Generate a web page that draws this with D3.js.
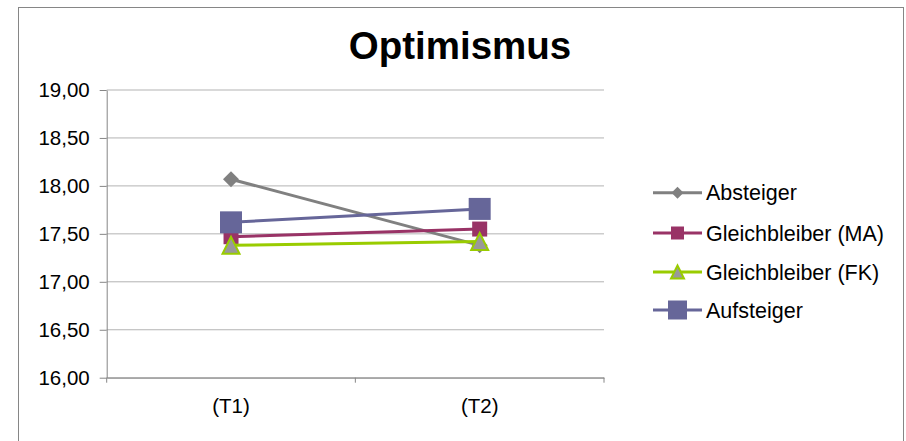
<!DOCTYPE html>
<html>
<head>
<meta charset="utf-8">
<script src="https://cdn.jsdelivr.net/npm/d3@7"></script>
<style>
  html, body { margin: 0; padding: 0; background: #fff; }
  svg { display: block; font-family: "Liberation Sans", Arial, sans-serif; }
</style>
</head>
<body>
<svg id="chart" width="906" height="441"></svg>
<script>
// Messzeitpunkte
const categories = ["(T1)", "(T2)"];

// Mittelwerte je Gruppe
const absteiger = [18.07, 17.38];
const gleichbleiberMA = [17.47, 17.55];
const gleichbleiberFK = [17.38, 17.42];
const aufsteiger = [17.62, 17.76];

const seriesNames = ["Absteiger", "Gleichbleiber (MA)", "Gleichbleiber (FK)", "Aufsteiger"];
const yTicks = [16, 16.5, 17, 17.5, 18, 18.5, 19];

const series = [
  { name: seriesNames[0], values: absteiger, line: "#808080", fill: "#808080", stroke: "none", symbol: "diamond", size: 16, legendSize: 12 },
  { name: seriesNames[1], values: gleichbleiberMA, line: "#993366", fill: "#993366", stroke: "none", symbol: "square", size: 15, legendSize: 13 },
  { name: seriesNames[2], values: gleichbleiberFK, line: "#99CC00", fill: "#999999", stroke: "#99CC00", symbol: "triangle", size: 17, legendSize: 13 },
  { name: seriesNames[3], values: aufsteiger, line: "#666699", fill: "#666699", stroke: "none", symbol: "square", size: 22, legendSize: 19 }
];

const svg = d3.select("#chart");
const plot = { left: 106.7, right: 604, top: 90, bottom: 377.7 };

const deLocale = d3.formatLocale({ decimal: ",", thousands: ".", grouping: [3], currency: ["", " €"] });
const fmt = deLocale.format(".2f");

// Rahmen des Diagrammbereichs
svg.append("rect")
  .attr("x", 18.5).attr("y", 7.5)
  .attr("width", 885).attr("height", 450)
  .attr("fill", "#fff").attr("stroke", "#868686").attr("stroke-width", 1);

// Titel
svg.append("text")
  .attr("x", 460).attr("y", 59)
  .attr("text-anchor", "middle")
  .attr("font-size", 38.5).attr("font-weight", "bold")
  .attr("fill", "#000")
  .text("Optimismus");

const x = d3.scaleBand().domain(categories).range([plot.left, plot.right]);
const y = d3.scaleLinear().domain([16, 19]).range([plot.bottom, plot.top]);

// Gitternetzlinien
svg.append("g").selectAll("line").data(yTicks).join("line")
  .attr("x1", plot.left).attr("x2", plot.right)
  .attr("y1", d => y(d)).attr("y2", d => y(d))
  .attr("stroke", "#b3b3b3").attr("stroke-width", 1);

// y-Achse
const yAxis = svg.append("g")
  .attr("transform", `translate(${plot.left},0)`)
  .call(d3.axisLeft(y).tickValues(yTicks).tickFormat(fmt).tickSize(7).tickSizeOuter(0).tickPadding(10));
yAxis.select(".domain").attr("stroke", "#868686");
yAxis.selectAll(".tick line").attr("stroke", "#868686");
yAxis.selectAll(".tick text").attr("font-size", 20.5).attr("fill", "#000")
  .attr("font-family", "Liberation Sans, Arial, sans-serif");

// x-Achse
const xAxis = svg.append("g")
  .attr("transform", `translate(0,${plot.bottom})`)
  .call(d3.axisBottom(x).tickSize(0).tickSizeOuter(0).tickPadding(21));
xAxis.select(".domain").attr("stroke", "#868686");
xAxis.selectAll(".tick text").attr("font-size", 20.5).attr("fill", "#000")
  .attr("font-family", "Liberation Sans, Arial, sans-serif");
const boundaries = categories.map(c => x(c)).concat([x(categories[categories.length - 1]) + x.bandwidth()]);
xAxis.selectAll("line.sep").data(boundaries).join("line")
  .attr("class", "sep")
  .attr("x1", d => d).attr("x2", d => d)
  .attr("y1", 0).attr("y2", 5)
  .attr("stroke", "#868686");

function symbolPath(type, size) {
  const h = size / 2;
  if (type === "square") return `M${-h},${-h}H${h}V${h}H${-h}Z`;
  if (type === "diamond") return `M0,${-h}L${h},0L0,${h}L${-h},0Z`;
  if (type === "triangle") return `M0,${-h}L${h},${h}L${-h},${h}Z`;
  return "";
}

const cx = c => x(c) + x.bandwidth() / 2;
const line = d3.line().x((d, i) => cx(categories[i])).y(d => y(d));

// Datenreihen
series.forEach(s => {
  const g = svg.append("g");
  g.append("path")
    .attr("d", line(s.values))
    .attr("fill", "none").attr("stroke", s.line).attr("stroke-width", 3);
  g.selectAll("path.marker").data(s.values).join("path")
    .attr("class", "marker")
    .attr("transform", (d, i) => `translate(${cx(categories[i])},${y(d)})`)
    .attr("d", symbolPath(s.symbol, s.size))
    .attr("fill", s.fill)
    .attr("stroke", s.stroke === "none" ? null : s.stroke)
    .attr("stroke-width", s.stroke === "none" ? null : 2);
});

// Legende
const legendRows = [192.7, 233, 272, 310];
const legend = svg.append("g").attr("transform", "translate(653,0)");
series.forEach((s, i) => {
  const row = legend.append("g").attr("transform", `translate(0,${legendRows[i]})`);
  row.append("line").attr("x1", 0).attr("x2", 49).attr("y1", 0).attr("y2", 0)
    .attr("stroke", s.line).attr("stroke-width", 3);
  row.append("path").attr("transform", "translate(24.5,0)")
    .attr("d", symbolPath(s.symbol, s.legendSize))
    .attr("fill", s.fill)
    .attr("stroke", s.stroke === "none" ? null : s.stroke)
    .attr("stroke-width", s.stroke === "none" ? null : 2);
  row.append("text").attr("x", 53).attr("y", 0).attr("dy", "0.35em")
    .attr("font-size", 21.5).attr("fill", "#000")
    .text(s.name);
});
</script>
</body>
</html>
